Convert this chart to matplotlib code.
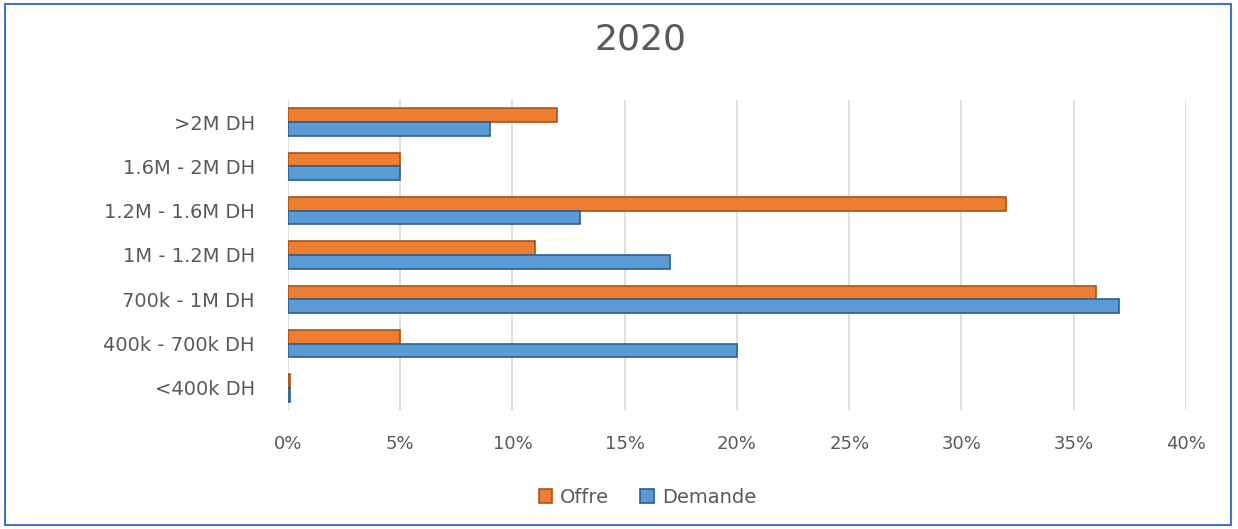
import numpy as np
import matplotlib
matplotlib.use('Agg')
import matplotlib.pyplot as plt
from matplotlib.patches import Rectangle

categories = ['<400k DH', '400k - 700k DH', '700k - 1M DH', '1M - 1.2M DH',
              '1.2M - 1.6M DH', '1.6M - 2M DH', '>2M DH']
offre = [0.1, 5, 36, 11, 32, 5, 12]
demande = [0.1, 20, 37, 17, 13, 5, 9]
xticks = [0, 5, 10, 15, 20, 25, 30, 35, 40]

plt.rcParams['font.family'] = ['DejaVu Sans']
grey = '#595959'

fig = plt.figure(figsize=(12.38, 5.29), dpi=100)
ax = fig.add_axes([0.2326, 0.225, 0.7254, 0.586])

y = np.arange(len(categories))
h = 0.31
ax.barh(y + h / 2, offre, height=h, color='#ED7D31', edgecolor='#A9521B',
        linewidth=1.2, label='Offre', zorder=3)
ax.barh(y - h / 2, demande, height=h, color='#5B9BD5', edgecolor='#2F5F8E',
        linewidth=1.2, label='Demande', zorder=3)

ax.set_xlim(0, 40)
ax.set_ylim(-0.5, len(categories) - 0.5)
ax.set_xticks(xticks)
ax.set_xticklabels([f'{v}%' for v in xticks])
ax.set_yticks(y)
ax.set_yticklabels(categories)
ax.tick_params(axis='x', length=0, pad=18, labelsize=13, labelcolor=grey)
ax.tick_params(axis='y', length=0, pad=24, labelsize=14, labelcolor=grey)
ax.grid(axis='x', color='#D9D9D9', linewidth=1.2, zorder=0)
for s in ax.spines.values():
    s.set_visible(False)

fig.suptitle('2020', x=0.517, y=0.958, fontsize=26, color=grey)

leg = fig.legend(loc='center', bbox_to_anchor=(0.523, 0.06), ncol=2,
                 frameon=False, fontsize=14, handlelength=0.7,
                 handleheight=0.7, handletextpad=0.4, columnspacing=1.6)
for t in leg.get_texts():
    t.set_color(grey)

# outer frame around the chart
fig.patches.append(Rectangle((0.004, 0.008), 0.99, 0.985, transform=fig.transFigure,
                             fill=False, edgecolor='#4472C4', linewidth=1.5))

fig.savefig('out.png', dpi=100)
